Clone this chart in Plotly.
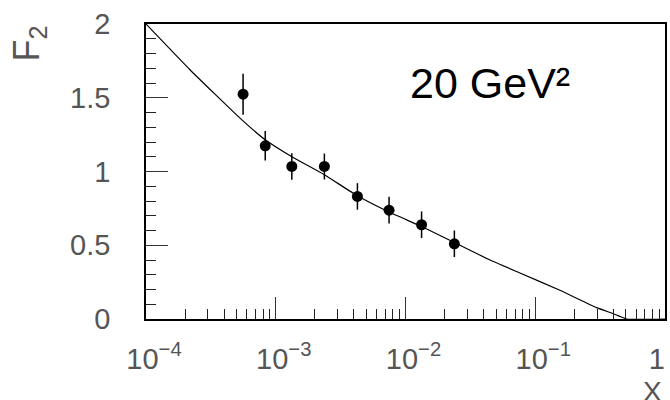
import plotly.graph_objects as go

# Data points (x, F2, error)
data_x = [5.6e-4, 8.3e-4, 1.33e-3, 2.37e-3, 4.26e-3, 7.47e-3, 1.33e-2, 2.38e-2]
data_f2 = [1.524, 1.174, 1.034, 1.034, 0.831, 0.738, 0.639, 0.510]
data_err = [0.139, 0.100, 0.090, 0.088, 0.090, 0.090, 0.090, 0.090]

# Theory curve
curve_x = [1.0e-4, 2.18e-4, 5.30e-4, 8.30e-4, 1.33e-3, 2.37e-3, 4.26e-3, 7.46e-3,
           1.33e-2, 2.38e-2, 4.48e-2, 7.62e-2, 0.155, 0.297, 0.40, 0.507, 1.0]
curve_f2 = [2.0, 1.69, 1.362, 1.215, 1.10, 0.978, 0.835, 0.725,
            0.627, 0.519, 0.400, 0.312, 0.195, 0.077, 0.036, 0.0, 0.0]

x_tickvals = [1e-4, 1e-3, 1e-2, 1e-1, 1]
x_ticktext = ["10<sup>\u22124</sup>", "10<sup>\u22123</sup>", "10<sup>\u22122</sup>",
              "10<sup>\u22121</sup>", "1&nbsp;&nbsp;&nbsp;&nbsp;"]
x_minor = [m * 10.0 ** e for e in range(-4, 0) for m in range(2, 10)]

y_tickvals = [0, 0.5, 1, 1.5, 2]
y_ticktext = ["0", "0.5", "1", "1.5", "2"]

FONT = "Liberation Sans, Arial, sans-serif"
TICKCOL = "#555555"

fig = go.Figure()
fig.add_trace(go.Scatter(x=curve_x, y=curve_f2, mode="lines",
                         line=dict(color="black", width=1.2, shape="spline", smoothing=0.4),
                         showlegend=False))
fig.add_trace(go.Scatter(x=data_x, y=data_f2, mode="markers",
                         marker=dict(color="black", size=11),
                         error_y=dict(type="data", array=data_err, visible=True,
                                      width=0, thickness=1.5, color="black"),
                         showlegend=False))

fig.update_layout(
    width=670, height=400,
    margin=dict(l=146, r=5, t=24, b=81),
    paper_bgcolor="white", plot_bgcolor="white",
    font=dict(family=FONT, color=TICKCOL),
    xaxis=dict(type="log", range=[-4, 0], tickvals=x_tickvals, ticktext=x_ticktext,
               ticks="inside", ticklen=22, tickwidth=1, tickcolor="#333333",
               minor=dict(tickvals=x_minor, ticks="inside", ticklen=10,
                          tickwidth=1, tickcolor="#222222"),
               showline=True, mirror=True, linecolor="black", linewidth=1.5,
               showgrid=False, zeroline=False, automargin=False,
               tickfont=dict(size=29, color=TICKCOL, family=FONT),
               ticklabelstandoff=13, ticklabelshift=8, ticklabeloverflow="allow"),
    yaxis=dict(range=[0, 2], tickvals=y_tickvals, ticktext=y_ticktext,
               ticks="inside", ticklen=22, tickwidth=1, tickcolor="#333333",
               minor=dict(dtick=0.1, ticks="inside", ticklen=10,
                          tickwidth=1, tickcolor="#222222"),
               showline=True, mirror=True, linecolor="black", linewidth=1.5,
               showgrid=False, zeroline=False, automargin=False,
               tickfont=dict(size=29, color=TICKCOL, family=FONT),
               ticklabelstandoff=28),
    annotations=[
        dict(text="F<sub>2</sub>", textangle=-90, xref="paper", yref="paper",
             x=-0.225, y=0.935, xanchor="center", yanchor="middle",
             showarrow=False, font=dict(size=36, color=TICKCOL, family=FONT)),
        dict(text="20 GeV\u00b2", xref="paper", yref="paper",
             x=0.662, y=0.80, xanchor="center", yanchor="middle",
             showarrow=False, font=dict(size=43, color="black", family=FONT)),
        dict(text="X", xref="paper", yref="paper",
             x=0.976, y=-0.185, xanchor="center", yanchor="top",
             showarrow=False, font=dict(size=28, color=TICKCOL, family=FONT)),
    ],
)

fig.write_html("out.html", config={"displayModeBar": False},
               post_script="document.body.style.margin='0';document.body.style.overflow='hidden';")
